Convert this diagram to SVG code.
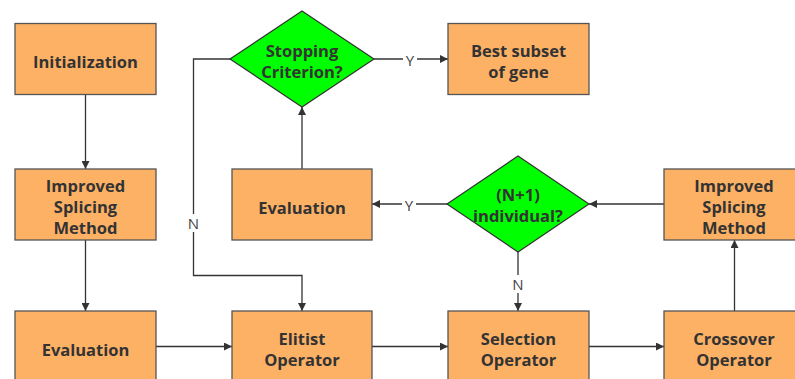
<svg xmlns="http://www.w3.org/2000/svg" width="795" height="379" viewBox="0 0 795 379">
<style>
.box{fill:#FDB165;stroke:#555;stroke-width:1.3}
.dia{fill:#00FF00;stroke:#333;stroke-width:1.2}
.t{font-family:"Open Sans","Noto Sans",sans-serif;font-weight:bold;font-size:16.5px;fill:#333;text-anchor:middle;dominant-baseline:central}
.c{fill:none;stroke:#333;stroke-width:1.3}
.lb{font-family:"Open Sans","Noto Sans",sans-serif;font-size:15px;fill:#444;text-anchor:middle;dominant-baseline:central}
.bg{fill:#fff}
</style>
<defs>
<marker id="ah" viewBox="0 0 10 10" refX="10" refY="5" markerWidth="10" markerHeight="8" markerUnits="userSpaceOnUse" orient="auto">
<path d="M0,0 L10,5 L0,10 z" fill="#333"/>
</marker>
</defs>
<g id="connectors">
<path class="c" d="M85.5,95 V169" marker-end="url(#ah)"/>
<path class="c" d="M85.5,240 V311" marker-end="url(#ah)"/>
<path class="c" d="M156,346.5 H232" marker-end="url(#ah)"/>
<path class="c" d="M372,346.5 H448" marker-end="url(#ah)"/>
<path class="c" d="M589,346.5 H664" marker-end="url(#ah)"/>
<path class="c" d="M734.5,311 V240" marker-end="url(#ah)"/>
<path class="c" d="M664,204 H589" marker-end="url(#ah)"/>
<path class="c" d="M447,204 H372" marker-end="url(#ah)"/>
<path class="c" d="M518,252 V311" marker-end="url(#ah)"/>
<path class="c" d="M302,169 V107" marker-end="url(#ah)"/>
<path class="c" d="M374,59 H448" marker-end="url(#ah)"/>
<path class="c" d="M230,59 H193.5 V275.5 H302 V311" marker-end="url(#ah)"/>
<rect class="bg" x="403" y="51" width="14" height="17"/>
<text class="lb" x="410" y="60">Y</text>
<rect class="bg" x="402" y="196" width="14" height="17"/>
<text class="lb" x="409" y="205">Y</text>
<rect class="bg" x="510" y="275" width="16" height="18"/>
<text class="lb" x="518" y="284">N</text>
<rect class="bg" x="185" y="214" width="17" height="18"/>
<text class="lb" x="193.5" y="223">N</text>
</g>
<g id="initialization">
<rect class="box" x="15" y="23.5" width="141" height="71"/>
<text class="t" x="85.5" y="61">Initialization</text>
</g>
<g id="improved-splicing-left">
<rect class="box" x="15" y="169" width="141" height="71"/>
<text class="t" x="85.5" y="185.5">Improved</text>
<text class="t" x="85.5" y="206.5">Splicing</text>
<text class="t" x="85.5" y="227.5">Method</text>
</g>
<g id="evaluation-left">
<rect class="box" x="15" y="311" width="141" height="71"/>
<text class="t" x="85.5" y="349">Evaluation</text>
</g>
<g id="stopping-criterion">
<polygon class="dia" points="302,11 374,59 302,107 230,59"/>
<text class="t" x="302" y="50.5">Stopping</text>
<text class="t" x="302" y="71.5">Criterion?</text>
</g>
<g id="best-subset">
<rect class="box" x="448" y="23.5" width="141" height="71"/>
<text class="t" x="518.5" y="50">Best subset</text>
<text class="t" x="518.5" y="71">of gene</text>
</g>
<g id="evaluation-mid">
<rect class="box" x="232" y="169" width="140" height="71"/>
<text class="t" x="302" y="207">Evaluation</text>
</g>
<g id="n1-individual">
<polygon class="dia" points="518,156 589,204 518,252 447,204"/>
<text class="t" x="518" y="194">(N+1)</text>
<text class="t" x="518" y="215">individual?</text>
</g>
<g id="improved-splicing-right">
<rect class="box" x="664" y="169" width="141" height="71"/>
<text class="t" x="734" y="185.5">Improved</text>
<text class="t" x="734" y="206.5">Splicing</text>
<text class="t" x="734" y="227.5">Method</text>
</g>
<g id="elitist">
<rect class="box" x="232" y="311" width="140" height="71"/>
<text class="t" x="302" y="338">Elitist</text>
<text class="t" x="302" y="359">Operator</text>
</g>
<g id="selection">
<rect class="box" x="448" y="311" width="141" height="71"/>
<text class="t" x="518.5" y="338">Selection</text>
<text class="t" x="518.5" y="359">Operator</text>
</g>
<g id="crossover">
<rect class="box" x="664" y="311" width="141" height="71"/>
<text class="t" x="734" y="338">Crossover</text>
<text class="t" x="734" y="359">Operator</text>
</g>
</svg>
